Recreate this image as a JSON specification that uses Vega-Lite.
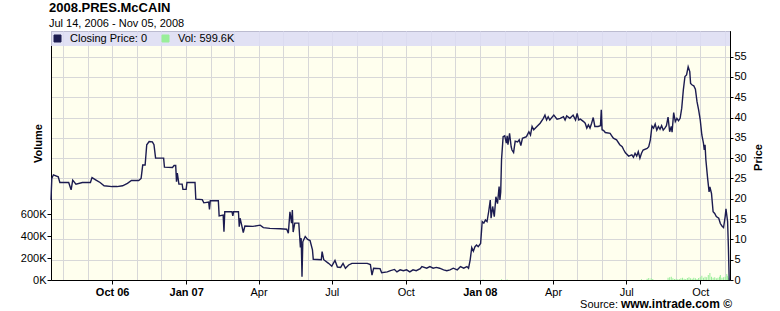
{
  "$schema": "https://vega.github.io/schema/vega-lite/v6.json",
  "width": 679,
  "height": 249,
  "autosize": {"type": "none"},
  "padding": {"left": 51, "top": 31, "right": 50, "bottom": 31},
  "background": "#ffffff",
  "title": {
    "text": "2008.PRES.McCAIN",
    "subtitle": "Jul 14, 2006 - Nov 05, 2008",
    "anchor": "start",
    "frame": "group",
    "fontSize": 13,
    "fontWeight": "bold",
    "font": "Liberation Sans",
    "subtitleFont": "Liberation Sans",
    "subtitleFontSize": 11,
    "subtitlePadding": 3,
    "offset": 2,
    "dx": -2,
    "color": "#000000",
    "subtitleColor": "#000000"
  },
  "datasets": {
    "price": [
      {"date": "2006-07-17", "price": 19.7},
      {"date": "2006-07-18", "price": 25.0},
      {"date": "2006-07-20", "price": 25.9},
      {"date": "2006-07-26", "price": 25.4},
      {"date": "2006-07-28", "price": 24.0},
      {"date": "2006-08-08", "price": 24.0},
      {"date": "2006-08-11", "price": 22.2},
      {"date": "2006-08-13", "price": 24.6},
      {"date": "2006-08-17", "price": 23.6},
      {"date": "2006-08-25", "price": 24.0},
      {"date": "2006-09-04", "price": 24.0},
      {"date": "2006-09-06", "price": 25.2},
      {"date": "2006-09-11", "price": 24.6},
      {"date": "2006-09-16", "price": 24.0},
      {"date": "2006-09-21", "price": 23.2},
      {"date": "2006-10-01", "price": 23.0},
      {"date": "2006-10-07", "price": 23.0},
      {"date": "2006-10-14", "price": 23.2},
      {"date": "2006-10-20", "price": 23.8},
      {"date": "2006-10-25", "price": 24.5},
      {"date": "2006-11-03", "price": 24.5},
      {"date": "2006-11-06", "price": 25.0},
      {"date": "2006-11-08", "price": 28.3},
      {"date": "2006-11-11", "price": 28.3},
      {"date": "2006-11-13", "price": 33.3},
      {"date": "2006-11-16", "price": 34.1},
      {"date": "2006-11-20", "price": 34.0},
      {"date": "2006-11-22", "price": 33.3},
      {"date": "2006-11-24", "price": 30.0},
      {"date": "2006-12-04", "price": 30.0},
      {"date": "2006-12-05", "price": 27.8},
      {"date": "2006-12-15", "price": 27.7},
      {"date": "2006-12-17", "price": 28.2},
      {"date": "2006-12-19", "price": 28.2},
      {"date": "2006-12-20", "price": 24.2},
      {"date": "2006-12-21", "price": 26.3},
      {"date": "2006-12-23", "price": 23.6},
      {"date": "2006-12-27", "price": 23.6},
      {"date": "2006-12-28", "price": 22.3},
      {"date": "2007-01-01", "price": 22.3},
      {"date": "2007-01-02", "price": 24.0},
      {"date": "2007-01-12", "price": 24.0},
      {"date": "2007-01-13", "price": 19.9},
      {"date": "2007-01-21", "price": 19.8},
      {"date": "2007-01-23", "price": 19.0},
      {"date": "2007-01-29", "price": 19.2},
      {"date": "2007-01-30", "price": 17.4},
      {"date": "2007-01-31", "price": 19.5},
      {"date": "2007-02-10", "price": 19.5},
      {"date": "2007-02-11", "price": 15.8},
      {"date": "2007-02-16", "price": 16.0},
      {"date": "2007-02-17", "price": 11.9},
      {"date": "2007-02-18", "price": 16.8},
      {"date": "2007-02-27", "price": 16.8},
      {"date": "2007-02-28", "price": 15.8},
      {"date": "2007-03-01", "price": 16.8},
      {"date": "2007-03-07", "price": 16.8},
      {"date": "2007-03-08", "price": 13.1},
      {"date": "2007-03-09", "price": 15.2},
      {"date": "2007-03-11", "price": 13.5},
      {"date": "2007-03-13", "price": 11.7},
      {"date": "2007-03-15", "price": 13.3},
      {"date": "2007-03-25", "price": 13.2},
      {"date": "2007-04-03", "price": 13.5},
      {"date": "2007-04-07", "price": 12.9},
      {"date": "2007-04-15", "price": 12.7},
      {"date": "2007-04-28", "price": 12.6},
      {"date": "2007-05-06", "price": 12.5},
      {"date": "2007-05-08", "price": 11.5},
      {"date": "2007-05-10", "price": 16.8},
      {"date": "2007-05-12", "price": 14.0},
      {"date": "2007-05-13", "price": 17.2},
      {"date": "2007-05-14", "price": 11.8},
      {"date": "2007-05-16", "price": 14.0},
      {"date": "2007-05-21", "price": 14.0},
      {"date": "2007-05-23", "price": 8.0},
      {"date": "2007-05-24", "price": 10.3},
      {"date": "2007-05-25", "price": 0.8},
      {"date": "2007-05-26", "price": 9.4},
      {"date": "2007-05-29", "price": 10.7},
      {"date": "2007-06-01", "price": 10.0},
      {"date": "2007-06-04", "price": 9.7},
      {"date": "2007-06-07", "price": 7.4},
      {"date": "2007-06-08", "price": 5.1},
      {"date": "2007-06-18", "price": 5.0},
      {"date": "2007-06-19", "price": 7.0},
      {"date": "2007-06-21", "price": 5.0},
      {"date": "2007-06-27", "price": 4.1},
      {"date": "2007-07-01", "price": 3.4},
      {"date": "2007-07-05", "price": 4.8},
      {"date": "2007-07-08", "price": 3.2},
      {"date": "2007-07-12", "price": 3.1},
      {"date": "2007-07-15", "price": 4.1},
      {"date": "2007-07-18", "price": 2.9},
      {"date": "2007-07-22", "price": 3.7},
      {"date": "2007-07-26", "price": 4.1},
      {"date": "2007-08-08", "price": 4.1},
      {"date": "2007-08-14", "price": 4.1},
      {"date": "2007-08-18", "price": 3.8},
      {"date": "2007-08-19", "price": 2.5},
      {"date": "2007-08-20", "price": 1.2},
      {"date": "2007-08-22", "price": 2.9},
      {"date": "2007-08-30", "price": 2.8},
      {"date": "2007-09-01", "price": 1.8},
      {"date": "2007-09-08", "price": 2.0},
      {"date": "2007-09-12", "price": 2.3},
      {"date": "2007-09-17", "price": 2.6},
      {"date": "2007-09-20", "price": 2.0},
      {"date": "2007-09-24", "price": 2.5},
      {"date": "2007-09-28", "price": 2.3},
      {"date": "2007-10-02", "price": 2.5},
      {"date": "2007-10-06", "price": 2.0},
      {"date": "2007-10-10", "price": 2.5},
      {"date": "2007-10-14", "price": 2.3},
      {"date": "2007-10-19", "price": 2.8},
      {"date": "2007-10-21", "price": 3.3},
      {"date": "2007-10-27", "price": 2.9},
      {"date": "2007-10-31", "price": 3.3},
      {"date": "2007-11-04", "price": 2.9},
      {"date": "2007-11-08", "price": 3.1},
      {"date": "2007-11-12", "price": 2.9},
      {"date": "2007-11-17", "price": 2.5},
      {"date": "2007-11-21", "price": 2.3},
      {"date": "2007-11-25", "price": 2.5},
      {"date": "2007-11-29", "price": 2.9},
      {"date": "2007-12-04", "price": 2.5},
      {"date": "2007-12-08", "price": 3.3},
      {"date": "2007-12-12", "price": 2.9},
      {"date": "2007-12-16", "price": 3.3},
      {"date": "2007-12-18", "price": 2.9},
      {"date": "2007-12-20", "price": 4.9},
      {"date": "2007-12-22", "price": 8.0},
      {"date": "2007-12-24", "price": 7.1},
      {"date": "2007-12-26", "price": 8.2},
      {"date": "2007-12-28", "price": 8.6},
      {"date": "2007-12-30", "price": 8.2},
      {"date": "2008-01-02", "price": 9.0},
      {"date": "2008-01-04", "price": 14.4},
      {"date": "2008-01-06", "price": 14.0},
      {"date": "2008-01-08", "price": 14.8},
      {"date": "2008-01-10", "price": 14.4},
      {"date": "2008-01-12", "price": 16.8},
      {"date": "2008-01-14", "price": 19.7},
      {"date": "2008-01-15", "price": 15.2},
      {"date": "2008-01-17", "price": 18.1},
      {"date": "2008-01-19", "price": 15.6},
      {"date": "2008-01-21", "price": 20.5},
      {"date": "2008-01-23", "price": 18.8},
      {"date": "2008-01-25", "price": 23.0},
      {"date": "2008-01-26", "price": 19.7},
      {"date": "2008-01-27", "price": 21.7},
      {"date": "2008-01-28", "price": 29.6},
      {"date": "2008-01-30", "price": 35.3},
      {"date": "2008-02-01", "price": 35.5},
      {"date": "2008-02-03", "price": 33.7},
      {"date": "2008-02-04", "price": 35.5},
      {"date": "2008-02-05", "price": 33.3},
      {"date": "2008-02-07", "price": 36.1},
      {"date": "2008-02-09", "price": 32.8},
      {"date": "2008-02-10", "price": 32.0},
      {"date": "2008-02-12", "price": 31.4},
      {"date": "2008-02-14", "price": 34.2},
      {"date": "2008-02-17", "price": 34.0},
      {"date": "2008-02-19", "price": 34.5},
      {"date": "2008-02-21", "price": 33.1},
      {"date": "2008-02-23", "price": 34.9},
      {"date": "2008-02-28", "price": 35.3},
      {"date": "2008-03-02", "price": 36.5},
      {"date": "2008-03-04", "price": 35.7},
      {"date": "2008-03-06", "price": 37.8},
      {"date": "2008-03-08", "price": 37.0},
      {"date": "2008-03-12", "price": 37.8},
      {"date": "2008-03-16", "price": 38.6},
      {"date": "2008-03-20", "price": 39.8},
      {"date": "2008-03-22", "price": 40.6},
      {"date": "2008-03-24", "price": 39.4},
      {"date": "2008-03-26", "price": 40.2},
      {"date": "2008-03-28", "price": 39.4},
      {"date": "2008-04-02", "price": 40.6},
      {"date": "2008-04-06", "price": 39.6},
      {"date": "2008-04-10", "price": 39.8},
      {"date": "2008-04-14", "price": 40.2},
      {"date": "2008-04-16", "price": 39.4},
      {"date": "2008-04-18", "price": 40.4},
      {"date": "2008-04-22", "price": 39.8},
      {"date": "2008-04-26", "price": 40.6},
      {"date": "2008-04-29", "price": 39.4},
      {"date": "2008-05-01", "price": 41.0},
      {"date": "2008-05-03", "price": 39.4},
      {"date": "2008-05-05", "price": 39.6},
      {"date": "2008-05-09", "price": 39.0},
      {"date": "2008-05-11", "price": 38.6},
      {"date": "2008-05-13", "price": 37.4},
      {"date": "2008-05-15", "price": 38.2},
      {"date": "2008-05-17", "price": 37.4},
      {"date": "2008-05-19", "price": 38.6},
      {"date": "2008-05-21", "price": 40.0},
      {"date": "2008-05-23", "price": 37.8},
      {"date": "2008-05-27", "price": 37.8},
      {"date": "2008-05-30", "price": 38.0},
      {"date": "2008-05-31", "price": 41.9},
      {"date": "2008-06-01", "price": 37.0},
      {"date": "2008-06-03", "price": 36.8},
      {"date": "2008-06-05", "price": 36.3},
      {"date": "2008-06-11", "price": 36.1},
      {"date": "2008-06-13", "price": 35.5},
      {"date": "2008-06-15", "price": 34.9},
      {"date": "2008-06-19", "price": 34.5},
      {"date": "2008-06-23", "price": 33.3},
      {"date": "2008-06-26", "price": 32.8},
      {"date": "2008-06-28", "price": 32.0},
      {"date": "2008-06-30", "price": 31.3},
      {"date": "2008-07-04", "price": 30.5},
      {"date": "2008-07-08", "price": 30.8},
      {"date": "2008-07-10", "price": 30.2},
      {"date": "2008-07-12", "price": 31.2},
      {"date": "2008-07-14", "price": 30.5},
      {"date": "2008-07-16", "price": 31.6},
      {"date": "2008-07-18", "price": 30.0},
      {"date": "2008-07-20", "price": 31.2},
      {"date": "2008-07-22", "price": 32.0},
      {"date": "2008-07-27", "price": 32.4},
      {"date": "2008-07-29", "price": 32.8},
      {"date": "2008-07-31", "price": 34.5},
      {"date": "2008-08-02", "price": 37.9},
      {"date": "2008-08-04", "price": 37.4},
      {"date": "2008-08-06", "price": 38.4},
      {"date": "2008-08-08", "price": 36.9},
      {"date": "2008-08-10", "price": 37.8},
      {"date": "2008-08-12", "price": 37.1},
      {"date": "2008-08-14", "price": 38.0},
      {"date": "2008-08-16", "price": 36.9},
      {"date": "2008-08-18", "price": 37.4},
      {"date": "2008-08-20", "price": 38.0},
      {"date": "2008-08-22", "price": 40.1},
      {"date": "2008-08-24", "price": 36.5},
      {"date": "2008-08-26", "price": 37.8},
      {"date": "2008-08-27", "price": 36.4},
      {"date": "2008-08-29", "price": 41.2},
      {"date": "2008-08-31", "price": 39.0},
      {"date": "2008-09-02", "price": 39.8},
      {"date": "2008-09-04", "price": 39.2},
      {"date": "2008-09-06", "price": 39.8},
      {"date": "2008-09-08", "price": 42.3},
      {"date": "2008-09-10", "price": 46.8},
      {"date": "2008-09-12", "price": 50.1},
      {"date": "2008-09-14", "price": 50.5},
      {"date": "2008-09-16", "price": 52.5},
      {"date": "2008-09-18", "price": 51.3},
      {"date": "2008-09-19", "price": 48.4},
      {"date": "2008-09-21", "price": 48.0},
      {"date": "2008-09-23", "price": 47.8},
      {"date": "2008-09-25", "price": 47.0},
      {"date": "2008-09-27", "price": 43.9},
      {"date": "2008-09-29", "price": 41.9},
      {"date": "2008-10-01", "price": 39.4},
      {"date": "2008-10-03", "price": 35.7},
      {"date": "2008-10-05", "price": 33.7},
      {"date": "2008-10-06", "price": 32.0},
      {"date": "2008-10-07", "price": 33.3},
      {"date": "2008-10-08", "price": 29.6},
      {"date": "2008-10-10", "price": 25.4},
      {"date": "2008-10-12", "price": 21.7},
      {"date": "2008-10-13", "price": 22.9},
      {"date": "2008-10-15", "price": 21.3},
      {"date": "2008-10-17", "price": 16.8},
      {"date": "2008-10-19", "price": 16.4},
      {"date": "2008-10-21", "price": 15.6},
      {"date": "2008-10-24", "price": 15.2},
      {"date": "2008-10-26", "price": 13.9},
      {"date": "2008-10-28", "price": 13.3},
      {"date": "2008-10-30", "price": 12.9},
      {"date": "2008-11-01", "price": 15.6},
      {"date": "2008-11-02", "price": 17.5},
      {"date": "2008-11-04", "price": 14.4},
      {"date": "2008-11-05", "price": 8.2},
      {"date": "2008-11-06", "price": 0}
    ],
    "vol": [
      {"date": "2007-10-21", "vol": 3000},
      {"date": "2007-12-05", "vol": 3000},
      {"date": "2008-01-05", "vol": 5000},
      {"date": "2008-01-28", "vol": 6000},
      {"date": "2008-02-04", "vol": 5000},
      {"date": "2008-07-20", "vol": 8000},
      {"date": "2008-07-27", "vol": 12000},
      {"date": "2008-07-29", "vol": 18000},
      {"date": "2008-08-01", "vol": 15000},
      {"date": "2008-08-03", "vol": 10000},
      {"date": "2008-08-22", "vol": 20000},
      {"date": "2008-08-24", "vol": 25000},
      {"date": "2008-08-26", "vol": 30000},
      {"date": "2008-08-28", "vol": 15000},
      {"date": "2008-08-30", "vol": 10000},
      {"date": "2008-09-01", "vol": 12000},
      {"date": "2008-09-03", "vol": 8000},
      {"date": "2008-09-05", "vol": 10000},
      {"date": "2008-09-07", "vol": 15000},
      {"date": "2008-09-09", "vol": 20000},
      {"date": "2008-09-11", "vol": 12000},
      {"date": "2008-09-13", "vol": 10000},
      {"date": "2008-09-15", "vol": 18000},
      {"date": "2008-09-17", "vol": 25000},
      {"date": "2008-09-19", "vol": 15000},
      {"date": "2008-09-21", "vol": 12000},
      {"date": "2008-09-23", "vol": 20000},
      {"date": "2008-09-25", "vol": 15000},
      {"date": "2008-09-27", "vol": 10000},
      {"date": "2008-09-29", "vol": 18000},
      {"date": "2008-10-01", "vol": 25000},
      {"date": "2008-10-03", "vol": 40000},
      {"date": "2008-10-05", "vol": 20000},
      {"date": "2008-10-07", "vol": 30000},
      {"date": "2008-10-09", "vol": 25000},
      {"date": "2008-10-11", "vol": 45000},
      {"date": "2008-10-13", "vol": 65000},
      {"date": "2008-10-15", "vol": 30000},
      {"date": "2008-10-17", "vol": 20000},
      {"date": "2008-10-19", "vol": 25000},
      {"date": "2008-10-21", "vol": 15000},
      {"date": "2008-10-23", "vol": 20000},
      {"date": "2008-10-25", "vol": 30000},
      {"date": "2008-10-26", "vol": 45000},
      {"date": "2008-10-28", "vol": 20000},
      {"date": "2008-10-30", "vol": 25000},
      {"date": "2008-11-01", "vol": 30000},
      {"date": "2008-11-03", "vol": 55000},
      {"date": "2008-11-04", "vol": 40000},
      {"date": "2008-11-05", "vol": 20000}
    ],
    "source": [
      {"date": "2008-11-07", "pos": -6.9, "label": "Source:", "part": "plain"},
      {"date": "2008-11-07", "pos": -6.9, "label": "www.intrade.com ©", "part": "bold"}
    ]
  },
  "config": {
    "font": "Liberation Sans",
    "view": {"fill": "#ffffee", "stroke": "#000000", "strokeWidth": 1},
    "axis": {
      "labelFont": "Liberation Sans",
      "labelFontSize": 11,
      "labelColor": "#000000",
      "labelOverlap": false,
      "labelFlush": false,
      "tickColor": "#000000",
      "domainColor": "#000000",
      "titleFont": "Liberation Sans",
      "titleFontSize": 11,
      "titleFontWeight": "bold",
      "titleColor": "#000000",
      "gridColor": "#d8d8d8",
      "gridWidth": 1,
      "gridOpacity": 1
    }
  },
  "encoding": {
    "x": {
      "field": "date",
      "type": "temporal",
      "scale": {
        "type": "utc",
        "padding": 0,
        "nice": false,
        "domain": [
          {"year": 2006, "month": 7, "date": 17, "utc": true},
          {"year": 2008, "month": 11, "date": 7, "utc": true}
        ]
      },
      "axis": {
        "values": [
          {"year": 2006, "month": 8, "date": 1, "utc": true},
          {"year": 2006, "month": 9, "date": 1, "utc": true},
          {"year": 2006, "month": 10, "date": 1, "utc": true},
          {"year": 2006, "month": 11, "date": 1, "utc": true},
          {"year": 2006, "month": 12, "date": 1, "utc": true},
          {"year": 2007, "month": 1, "date": 1, "utc": true},
          {"year": 2007, "month": 2, "date": 1, "utc": true},
          {"year": 2007, "month": 3, "date": 1, "utc": true},
          {"year": 2007, "month": 4, "date": 1, "utc": true},
          {"year": 2007, "month": 5, "date": 1, "utc": true},
          {"year": 2007, "month": 6, "date": 1, "utc": true},
          {"year": 2007, "month": 7, "date": 1, "utc": true},
          {"year": 2007, "month": 8, "date": 1, "utc": true},
          {"year": 2007, "month": 9, "date": 1, "utc": true},
          {"year": 2007, "month": 10, "date": 1, "utc": true},
          {"year": 2007, "month": 11, "date": 1, "utc": true},
          {"year": 2007, "month": 12, "date": 1, "utc": true},
          {"year": 2008, "month": 1, "date": 1, "utc": true},
          {"year": 2008, "month": 2, "date": 1, "utc": true},
          {"year": 2008, "month": 3, "date": 1, "utc": true},
          {"year": 2008, "month": 4, "date": 1, "utc": true},
          {"year": 2008, "month": 5, "date": 1, "utc": true},
          {"year": 2008, "month": 6, "date": 1, "utc": true},
          {"year": 2008, "month": 7, "date": 1, "utc": true},
          {"year": 2008, "month": 8, "date": 1, "utc": true},
          {"year": 2008, "month": 9, "date": 1, "utc": true},
          {"year": 2008, "month": 10, "date": 1, "utc": true},
          {"year": 2008, "month": 11, "date": 1, "utc": true}
        ],
        "grid": true,
        "title": null,
        "tickSize": 4,
        "labelPadding": 2,
        "labelOverlap": false,
        "labelSeparation": 0,
        "labelBound": false,
        "labelExpr": "utcmonth(datum.value) % 3 != 0 ? ' ' : ((utcmonth(datum.value) == 0 || utcyear(datum.value) == 2006) ? utcFormat(datum.value, '%b %y') : utcFormat(datum.value, '%b'))",
        "labelFontWeight": {"condition": {"test": "utcmonth(datum.value) == 0 || utcyear(datum.value) == 2006", "value": "bold"}, "value": "normal"},
        "tickColor": {"condition": {"test": "utcmonth(datum.value) % 3 == 0", "value": "#000000"}, "value": "transparent"}
      }
    }
  },
  "layer": [
    {
      "data": {"name": "vol"},
      "mark": {"type": "bar", "size": 1},
      "encoding": {
        "y": {
          "field": "vol",
          "type": "quantitative",
          "scale": {"domain": [0, 2280000], "nice": false, "zero": true},
          "axis": {
            "orient": "left",
            "values": [0, 200000, 400000, 600000],
            "labelExpr": "(datum.value / 1000) + 'K'",
            "labelOverlap": false,
            "grid": false,
            "tickSize": 4,
            "labelPadding": 1,
            "title": "Volume",
            "titleAngle": 270,
            "titleX": -13,
            "titleY": 112,
            "titleBaseline": "middle",
            "titleAlign": "center"
          }
        },
        "color": {
          "datum": "Vol: 599.6K",
          "scale": {"domain": ["Closing Price: 0", "Vol: 599.6K"], "range": ["#1c1c50", "#99ee99"]},
          "legend": {
            "orient": "none",
            "legendX": 1,
            "legendY": 2,
            "direction": "horizontal",
            "title": null,
            "symbolType": "square",
            "symbolSize": 49,
            "labelFont": "Liberation Sans",
            "labelFontSize": 11,
            "labelColor": "#000000",
            "labelOffset": 7,
            "columnPadding": 12,
            "padding": 0,
            "symbolStrokeWidth": 1,
            "symbolStrokeColor": "#222222",
            "symbolOpacity": 1,
            "encode": {"symbols": {"update": {"fill": {"scale": "color", "field": "value"}, "stroke": {"value": "#222222"}, "strokeWidth": {"value": 1}}}}
          }
        }
      }
    },
    {
      "data": {"values": [{"start": "2006-07-17", "end": "2008-11-07", "lo": 57.6, "hi": 61.3}]},
      "mark": {"type": "rect", "color": "#dcdcf4", "opacity": 0.85},
      "encoding": {
        "x": {"field": "start", "type": "temporal"},
        "x2": {"field": "end"},
        "y": {"field": "hi", "type": "quantitative", "scale": {"domain": [0, 61.3], "nice": false, "zero": true}, "axis": null},
        "y2": {"field": "lo"}
      }
    },
    {
      "data": {"name": "price"},
      "mark": {"type": "line", "strokeWidth": 1.4},
      "encoding": {
        "y": {
          "field": "price",
          "type": "quantitative",
          "scale": {"domain": [0, 61.3], "nice": false, "zero": true},
          "axis": {
            "orient": "right",
            "values": [0, 5, 10, 15, 20, 25, 30, 35, 40, 45, 50, 55],
            "labelOverlap": false,
            "grid": true,
            "tickSize": 3,
            "labelPadding": 1,
            "title": "Price",
            "titleAngle": 270,
            "titleX": 28,
            "titleY": 126,
            "titleBaseline": "middle",
            "titleAlign": "center"
          }
        },
        "color": {"datum": "Closing Price: 0"}
      }
    },
    {
      "data": {"name": "source"},
      "transform": [{"filter": "datum.part == 'bold'"}],
      "mark": {"type": "text", "align": "right", "baseline": "alphabetic", "fontWeight": "bold", "fontSize": 12, "font": "Liberation Sans", "color": "#000000", "dx": 2, "clip": false},
      "encoding": {
        "y": {"field": "pos", "type": "quantitative", "scale": {"domain": [0, 61.3], "nice": false, "zero": true}, "axis": null},
        "text": {"field": "label"}
      }
    },
    {
      "data": {"name": "source"},
      "transform": [{"filter": "datum.part == 'plain'"}],
      "mark": {"type": "text", "align": "right", "baseline": "alphabetic", "fontWeight": "normal", "fontSize": 11, "font": "Liberation Sans", "color": "#000000", "dx": -112, "clip": false},
      "encoding": {
        "y": {"field": "pos", "type": "quantitative", "scale": {"domain": [0, 61.3], "nice": false, "zero": true}, "axis": null},
        "text": {"field": "label"}
      }
    }
  ],
  "resolve": {"scale": {"y": "independent"}}
}
